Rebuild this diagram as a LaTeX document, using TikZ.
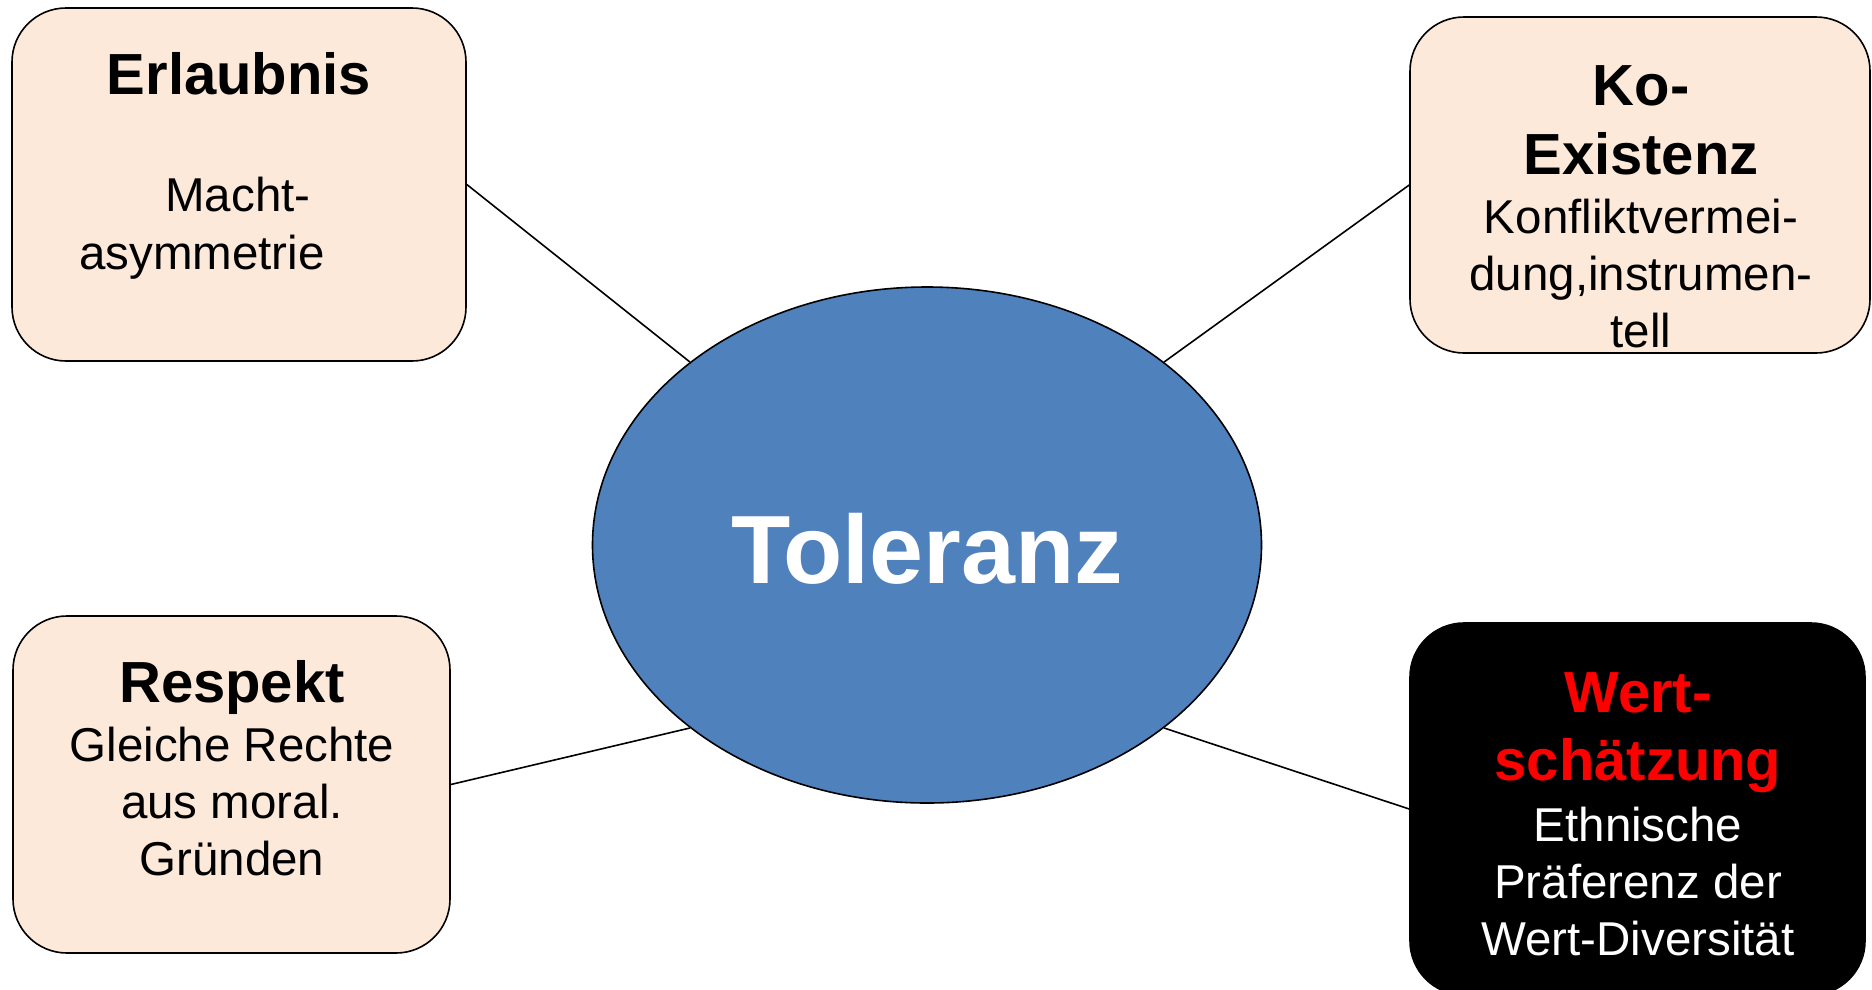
\documentclass[tikz,border=0pt]{standalone}
\usepackage{fontspec}
\setmainfont{Liberation Sans}
\usetikzlibrary{shapes.geometric}
\definecolor{peach}{HTML}{FDE9D9}
\definecolor{tolblue}{HTML}{4F81BD}
\definecolor{wertred}{HTML}{FF0000}
\begin{document}
\begin{tikzpicture}[x=1pt,y=-1pt,
  card/.style={draw=black,line width=1.6pt,rounded corners=54pt,fill=peach,inner sep=0pt},
  darkcard/.style={card,fill=black},
  head/.style={anchor=base,inner sep=0pt,font=\fontsize{58}{70}\selectfont\bfseries},
  body/.style={anchor=base,inner sep=0pt,font=\fontsize{47.5}{57}\selectfont},
  link/.style={draw=black,line width=1.6pt}]
\useasboundingbox (0,0) rectangle (1872,989);

% central ellipse
\node[ellipse,draw=black,line width=1.6pt,fill=tolblue,inner sep=0pt,
      minimum width=669pt,minimum height=516pt] (tol) at (927,545) {};
\node[anchor=base,inner sep=0pt,text=white,font=\fontsize{97}{116}\selectfont\bfseries]
      (toltext) at (927,583) {Toleranz};

% four cards
\node[card,minimum width=454pt,minimum height=353pt] (erl) at (239,184.5) {};
\node[card,minimum width=460pt,minimum height=336pt] (koex) at (1640,185) {};
\node[card,minimum width=437pt,minimum height=337pt] (resp) at (231.5,784.5) {};
\node[darkcard,minimum width=455pt,minimum height=372pt] (wert) at (1637.5,809) {};

% connectors to the diagonal anchors of the ellipse
\draw[link] (erl.east) -- (tol.north west);
\draw[link] (koex.west) -- (tol.north east);
\draw[link] (resp.east) -- (tol.south west);
\draw[link] (wert.west) -- (tol.south east);

% Erlaubnis
\node[head] (erlA) at (239,94) {Erlaubnis};
\node[body] (erlB) at (238,211) {Macht-};
\node[body] (erlC) at (202,269) {asymmetrie};

% Ko-Existenz
\node[head] (koA) at (1641,105) {Ko-};
\node[head] (koB) at (1641,174) {Existenz};
\node[body] (koC) at (1641,233) {Konfliktvermei-};
\node[body] (koD) at (1641,290) {dung,instrumen-};
\node[body] (koE) at (1641,347) {tell};

% Respekt
\node[head] (reA) at (232,702) {Respekt};
\node[body] (reB) at (232,761) {Gleiche Rechte};
\node[body] (reC) at (232,818) {aus moral.};
\node[body] (reD) at (232,875) {Gründen};

% Wertschaetzung
\node[head,text=wertred] (weA) at (1638,712) {Wert-};
\node[head,text=wertred] (weB) at (1638,780) {schätzung};
\node[body,text=white] (weC) at (1638,841) {Ethnische};
\node[body,text=white] (weD) at (1638,898) {Präferenz der};
\node[body,text=white] (weE) at (1638,955) {Wert-Diversität};
\end{tikzpicture}
\end{document}
